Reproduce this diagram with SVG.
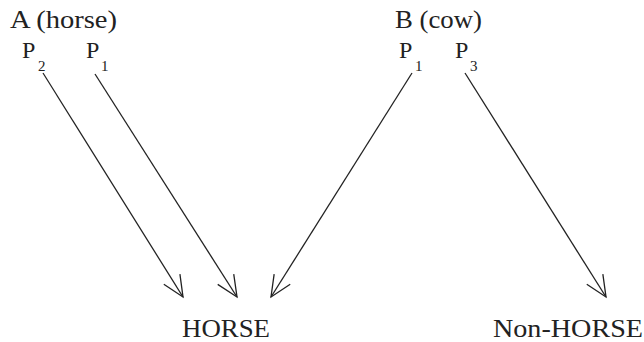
<svg xmlns="http://www.w3.org/2000/svg" width="644" height="342" viewBox="0 0 644 342">
  <style>
    text { font-family: "Liberation Serif", "Times New Roman", Times, serif; fill: #222; }
    .head { font-size: 25px; }
    .p { font-size: 24px; }
    .sub { font-size: 15px; }
    .target { font-size: 26px; }
    .edge { stroke: #222; stroke-width: 1.3; fill: none; marker-end: url(#vee); }
  </style>
  <defs>
    <marker id="vee" markerUnits="userSpaceOnUse" viewBox="-23 -11 25 22" markerWidth="25" markerHeight="22" refX="0" refY="0" orient="auto" overflow="visible">
      <path d="M-21,-9.5 L0,0 L-21,9.5" fill="none" stroke="#222" stroke-width="1.3"/>
    </marker>
  </defs>

  <rect width="644" height="342" fill="#fff"/>

  <g id="nodeA">
    <text class="head" x="10" y="28" textLength="107" lengthAdjust="spacingAndGlyphs">A (horse)</text>
    <text class="p" x="22" y="58">P</text>
    <text class="sub" x="38" y="71">2</text>
    <text class="p" x="86" y="58">P</text>
    <text class="sub" x="101" y="71">1</text>
  </g>

  <g id="nodeB">
    <text class="head" x="395" y="28" textLength="87" lengthAdjust="spacingAndGlyphs">B (cow)</text>
    <text class="p" x="399" y="58">P</text>
    <text class="sub" x="415" y="71">1</text>
    <text class="p" x="455" y="58">P</text>
    <text class="sub" x="470" y="71">3</text>
  </g>

  <g id="nodeHorse">
    <text class="target" x="182" y="337" textLength="88" lengthAdjust="spacingAndGlyphs">HORSE</text>
  </g>

  <g id="nodeNonHorse">
    <text class="target" x="493" y="337" textLength="150" lengthAdjust="spacingAndGlyphs">Non-HORSE</text>
  </g>

  <g id="connectors">
    <line class="edge" x1="43" y1="73" x2="183" y2="297"/>
    <line class="edge" x1="95" y1="74" x2="237" y2="297"/>
    <line class="edge" x1="412" y1="73" x2="271" y2="297"/>
    <line class="edge" x1="465" y1="73" x2="606" y2="297"/>
  </g>
</svg>
